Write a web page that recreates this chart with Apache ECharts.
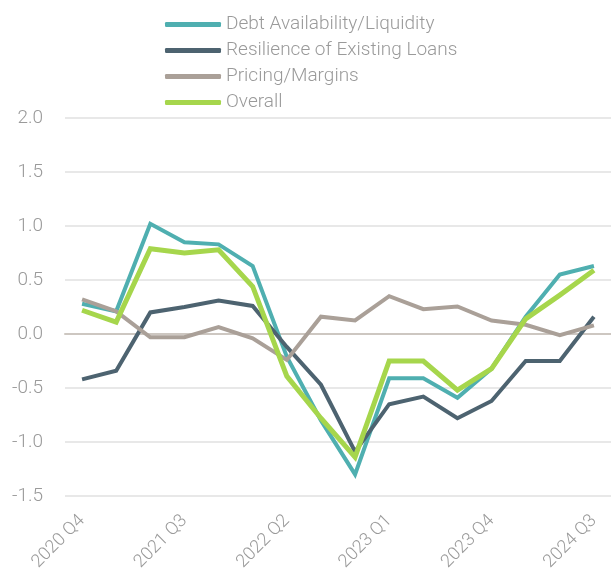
<!DOCTYPE html>
<html>
<head>
<meta charset="utf-8">
<script src="https://cdn.jsdelivr.net/npm/echarts@6/dist/echarts.min.js"></script>
<style>
  html, body { margin: 0; padding: 0; background: #fff; }
  #chart { width: 611px; height: 586px; }
</style>
</head>
<body>
<div id="chart"></div>
<script>
const categories = [
  "2020 Q4",
  "2021 Q1", "2021 Q2", "2021 Q3", "2021 Q4",
  "2022 Q1", "2022 Q2", "2022 Q3", "2022 Q4",
  "2023 Q1", "2023 Q2", "2023 Q3", "2023 Q4",
  "2024 Q1", "2024 Q2", "2024 Q3"
];
const debtAvailability = [0.28, 0.21, 1.02, 0.85, 0.83, 0.63, -0.21, -0.8, -1.3, -0.41, -0.41, -0.59, -0.32, 0.16, 0.55, 0.63];
const resilience = [-0.42, -0.34, 0.2, 0.25, 0.31, 0.26, -0.12, -0.47, -1.09, -0.65, -0.58, -0.78, -0.62, -0.25, -0.25, 0.16];
const pricing = [0.32, 0.21, -0.03, -0.03, 0.065, -0.04, -0.24, 0.16, 0.125, 0.35, 0.23, 0.255, 0.125, 0.085, -0.01, 0.08];
const overall = [0.22, 0.11, 0.79, 0.75, 0.78, 0.44, -0.39, -0.78, -1.14, -0.25, -0.25, -0.52, -0.32, 0.14, 0.36, 0.59];

const labelFont = "Roboto";
const labelColor = "#9a9a9a";

function makeSeries(name, data, color, width) {
  return {
    name: name,
    type: "line",
    data: data,
    symbol: "none",
    lineStyle: { color: color, width: width, join: "miter" },
    itemStyle: { color: color }
  };
}

let myChart = echarts.init(document.getElementById("chart"), null, { renderer: "canvas" });
let option = {
  animation: false,
  legend: {
    orient: "vertical",
    left: 160,
    top: 10,
    icon: "roundRect",
    itemWidth: 56,
    itemHeight: 5,
    itemGap: 7,
    textStyle: { color: labelColor, fontSize: 19, fontFamily: labelFont, fontWeight: 300 },
    data: ["Debt Availability/Liquidity", "Resilience of Existing Loans", "Pricing/Margins", "Overall"]
  },
  grid: { left: 65, right: -4, top: 118, bottom: 90 },
  xAxis: {
    type: "category",
    data: categories,
    boundaryGap: true,
    axisLine: { onZero: true, lineStyle: { color: "#cdc7c1", width: 2 } },
    axisTick: { show: false },
    axisLabel: {
      interval: 2,
      rotate: 45,
      margin: 22,
      color: labelColor,
      fontSize: 18,
      fontFamily: labelFont,
      fontWeight: 300
    }
  },
  yAxis: {
    type: "value",
    min: -1.5,
    max: 2,
    interval: 0.5,
    axisLine: { show: false },
    axisTick: { show: false },
    splitLine: { lineStyle: { color: "#e0e0e0", width: 1.5 } },
    axisLabel: {
      margin: 22,
      color: labelColor,
      fontSize: 19,
      fontFamily: labelFont,
      fontWeight: 300,
      formatter: (v) => v.toFixed(1)
    }
  },
  series: [
    makeSeries("Debt Availability/Liquidity", debtAvailability, "#4fafb0", 4),
    makeSeries("Resilience of Existing Loans", resilience, "#4d6370", 4),
    makeSeries("Pricing/Margins", pricing, "#aaa098", 4),
    makeSeries("Overall", overall, "#a6d64c", 5)
  ]
};
myChart.setOption(option);
</script>
</body>
</html>
